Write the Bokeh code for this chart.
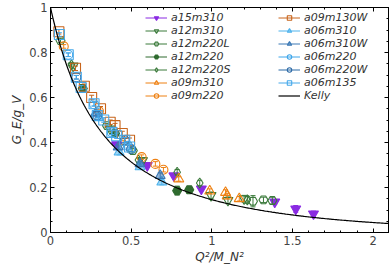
import numpy as np
from bokeh.plotting import figure
from bokeh.models import (LinearAxis, Legend, LegendItem, Range1d,
                          SingleIntervalTicker, ColumnDataSource,
                          CustomJSTickFormatter)
from bokeh.embed import file_html
from bokeh.resources import INLINE

# ---------------- data ----------------
a15m310_x = [0.41, 0.60, 0.765, 0.935, 1.39, 1.52, 1.63]
a15m310_y = [0.39, 0.298, 0.252, 0.194, 0.136, 0.105, 0.083]
a15m310_e = [0.008, 0.008, 0.008, 0.008, 0.010, 0.015, 0.012]

a12m310_x = [0.14, 0.37, 0.57, 0.995, 1.10, 1.20]
a12m310_y = [0.74, 0.46, 0.32, 0.165, 0.143, 0.150]
a12m310_e = [0.010, 0.010, 0.010, 0.015, 0.015, 0.015]

a12m220L_x = [0.062, 0.35, 0.51, 1.255, 1.32, 1.375]
a12m220L_y = [0.853, 0.475, 0.364, 0.139, 0.145, 0.142]
a12m220L_e = [0.010, 0.010, 0.010, 0.025, 0.012, 0.015]

a12m220_x = [0.20, 0.40, 0.785, 0.86]
a12m220_y = [0.64, 0.44, 0.186, 0.19]
a12m220_e = [0.010, 0.010, 0.020, 0.012]

a12m220S_x = [0.13, 0.545, 0.785, 0.925, 1.22]
a12m220S_y = [0.745, 0.322, 0.268, 0.22, 0.145]
a12m220S_e = [0.010, 0.010, 0.012, 0.012, 0.015]

a09m310_x = [0.45, 0.795, 0.987, 1.085, 1.095, 1.17]
a09m310_y = [0.40, 0.238, 0.184, 0.178, 0.162, 0.150]
a09m310_e = [0.010, 0.010, 0.010, 0.012, 0.012, 0.010]

a09m220_x = [0.082, 0.30, 0.565, 0.65, 0.70]
a09m220_y = [0.827, 0.54, 0.335, 0.305, 0.279]
a09m220_e = [0.008, 0.008, 0.010, 0.010, 0.010]

a09m130W_x = [0.052, 0.155, 0.21, 0.255, 0.31, 0.37, 0.40, 0.445, 0.49]
a09m130W_y = [0.892, 0.73, 0.65, 0.60, 0.55, 0.49, 0.475, 0.44, 0.41]
a09m130W_e = [0.010, 0.010, 0.010, 0.010, 0.010, 0.010, 0.010, 0.010, 0.010]

a06m310_x = [0.30, 0.425, 0.555, 0.69]
a06m310_y = [0.51, 0.357, 0.292, 0.224]
a06m310_e = [0.010, 0.012, 0.012, 0.012]

a06m310W_x = [0.28, 0.42, 0.555, 0.68]
a06m310W_y = [0.53, 0.38, 0.305, 0.253]
a06m310W_e = [0.010, 0.010, 0.012, 0.012]

a06m220_x = [0.11, 0.27, 0.38, 0.48]
a06m220_y = [0.79, 0.57, 0.445, 0.385]
a06m220_e = [0.008, 0.008, 0.010, 0.010]

a06m220W_x = [0.16, 0.29, 0.46, 0.50]
a06m220W_y = [0.69, 0.52, 0.41, 0.37]
a06m220W_e = [0.008, 0.008, 0.010, 0.010]

a06m135_x = [0.055, 0.11, 0.16, 0.19, 0.27, 0.29, 0.33, 0.38, 0.41, 0.46, 0.49]
a06m135_y = [0.88, 0.79, 0.69, 0.645, 0.572, 0.52, 0.50, 0.445, 0.43, 0.41, 0.38]
a06m135_e = [0.008, 0.008, 0.008, 0.008, 0.010, 0.010, 0.010, 0.010, 0.012, 0.012, 0.012]

# Kelly parametrisation (isovector G_E = G_E^p - G_E^n), x = Q^2/M_N^2
M_N = 0.939
kelly_p_a1 = -0.24
kelly_p_b = [10.98, 12.82, 21.97]
galster_A, galster_B, dipole_L2 = 1.70, 3.30, 0.71

x_ticks_major = 0.5
y_ticks_major = 0.2

series = [
    ("a15m310", a15m310_x, a15m310_y, a15m310_e, "inverted_triangle", "#8a2be2", True),
    ("a12m310", a12m310_x, a12m310_y, a12m310_e, "inverted_triangle", "#3b7a3b", False),
    ("a12m220L", a12m220L_x, a12m220L_y, a12m220L_e, "hex", "#3b7a3b", False),
    ("a12m220", a12m220_x, a12m220_y, a12m220_e, "hex", "#2f6b2f", True),
    ("a12m220S", a12m220S_x, a12m220S_y, a12m220S_e, "diamond", "#3b7a3b", False),
    ("a09m310", a09m310_x, a09m310_y, a09m310_e, "triangle", "#ee8012", False),
    ("a09m220", a09m220_x, a09m220_y, a09m220_e, "circle", "#ee8012", False),
    ("a09m130W", a09m130W_x, a09m130W_y, a09m130W_e, "square", "#c8651c", False),
    ("a06m310", a06m310_x, a06m310_y, a06m310_e, "triangle", "#4fb3ec", "half"),
    ("a06m310W", a06m310W_x, a06m310W_y, a06m310W_e, "triangle", "#3a78b5", "half"),
    ("a06m220", a06m220_x, a06m220_y, a06m220_e, "circle", "#3ea6ea", False),
    ("a06m220W", a06m220W_x, a06m220W_y, a06m220W_e, "circle", "#2c6aa6", False),
    ("a06m135", a06m135_x, a06m135_y, a06m135_e, "square", "#46a9ea", False),
]

FONT = "DejaVu Sans"

p = figure(width=390, height=270, output_backend="svg", toolbar_location=None,
           x_range=Range1d(0, 2.095), y_range=Range1d(0, 1.0),
           min_border_left=50, min_border_right=2, min_border_top=7,
           min_border_bottom=38)
p.background_fill_color = "white"
p.border_fill_color = "white"
p.grid.visible = False
p.outline_line_color = "black"
p.outline_line_width = 1

xt = SingleIntervalTicker(interval=x_ticks_major, num_minor_ticks=5)
yt = SingleIntervalTicker(interval=y_ticks_major, num_minor_ticks=4)
p.xaxis.ticker = xt
p.yaxis.ticker = yt
p.xaxis.axis_label = "Q²/M_N²"
p.yaxis.axis_label = "G_E/g_V"

for ax in [p.xaxis[0], p.yaxis[0]]:
    ax.major_tick_in = 4
    ax.major_tick_out = 0
    ax.minor_tick_in = 2
    ax.minor_tick_out = 0
    ax.axis_line_color = "black"
    ax.major_tick_line_color = "black"
    ax.minor_tick_line_color = "black"
    ax.major_label_text_font = FONT
    ax.major_label_text_font_size = "11.5px"
    ax.major_label_text_color = "#444444"
    ax.axis_label_text_font = FONT
    ax.axis_label_text_font_size = "12px"
    ax.axis_label_text_font_style = "italic"
    ax.axis_label_text_color = "#333333"
    ax.major_label_standoff = 3
    ax.axis_label_standoff = 2

blank = CustomJSTickFormatter(code="return '';")
for loc, tk in [("above", xt), ("right", yt)]:
    ax = LinearAxis(ticker=tk, major_tick_in=4, major_tick_out=0,
                    minor_tick_in=2, minor_tick_out=0, formatter=blank,
                    major_label_standoff=0, axis_line_color="black")
    p.add_layout(ax, loc)

# Kelly curve
xk = np.linspace(0, 2.095, 300)
tau = xk / 4.0
Q2 = xk * M_N**2
gep = (1 + kelly_p_a1 * tau) / (1 + kelly_p_b[0] * tau + kelly_p_b[1] * tau**2 + kelly_p_b[2] * tau**3)
gd = 1.0 / (1 + Q2 / dipole_L2) ** 2
gen = galster_A * tau / (1 + galster_B * tau) * gd
kelly_y = gep - gen

items = []
for name, xs, ys, es, mk, col, filled in series:
    xs = np.array(xs); ys = np.array(ys); es = np.array(es)
    src = ColumnDataSource(dict(x=xs, y=ys, lo=ys - es, hi=ys + es))
    seg = p.segment(x0="x", y0="lo", x1="x", y1="hi", source=src,
                    line_color=col, line_width=1)
    p.scatter(x="x", y="lo", source=src, marker="dash", size=5,
              line_color=col, line_width=1)
    p.scatter(x="x", y="hi", source=src, marker="dash", size=5,
              line_color=col, line_width=1)
    if filled is True:
        fc, fa = col, 1.0
    elif filled == "half":
        fc, fa = col, 0.55
    else:
        fc, fa = None, 0.0
    sz = 10 if mk in ("square", "diamond", "triangle", "inverted_triangle") else 9
    r = p.scatter(x="x", y="y", source=src, marker=mk, size=sz,
                  line_color=col, line_width=1.1, fill_color=fc, fill_alpha=fa)
    items.append(LegendItem(label=name, renderers=[seg, r]))

kr = p.line(xk, kelly_y, line_color="black", line_width=1.2)
items.append(LegendItem(label="Kelly", renderers=[kr]))

def mk_legend(its, loc):
    lg = Legend(items=its, location=loc, orientation="vertical",
                label_text_font=FONT, label_text_font_size="11px",
                label_text_font_style="italic", label_text_color="#333333",
                glyph_width=22, glyph_height=11, label_height=11,
                label_standoff=4, spacing=-1, padding=0, margin=0,
                border_line_color=None, background_fill_alpha=0)
    return lg

p.add_layout(mk_legend(items[:7], (95, 130)))
p.add_layout(mk_legend(items[7:], (228, 130)))

open("out.html", "w").write(file_html(p, INLINE))
